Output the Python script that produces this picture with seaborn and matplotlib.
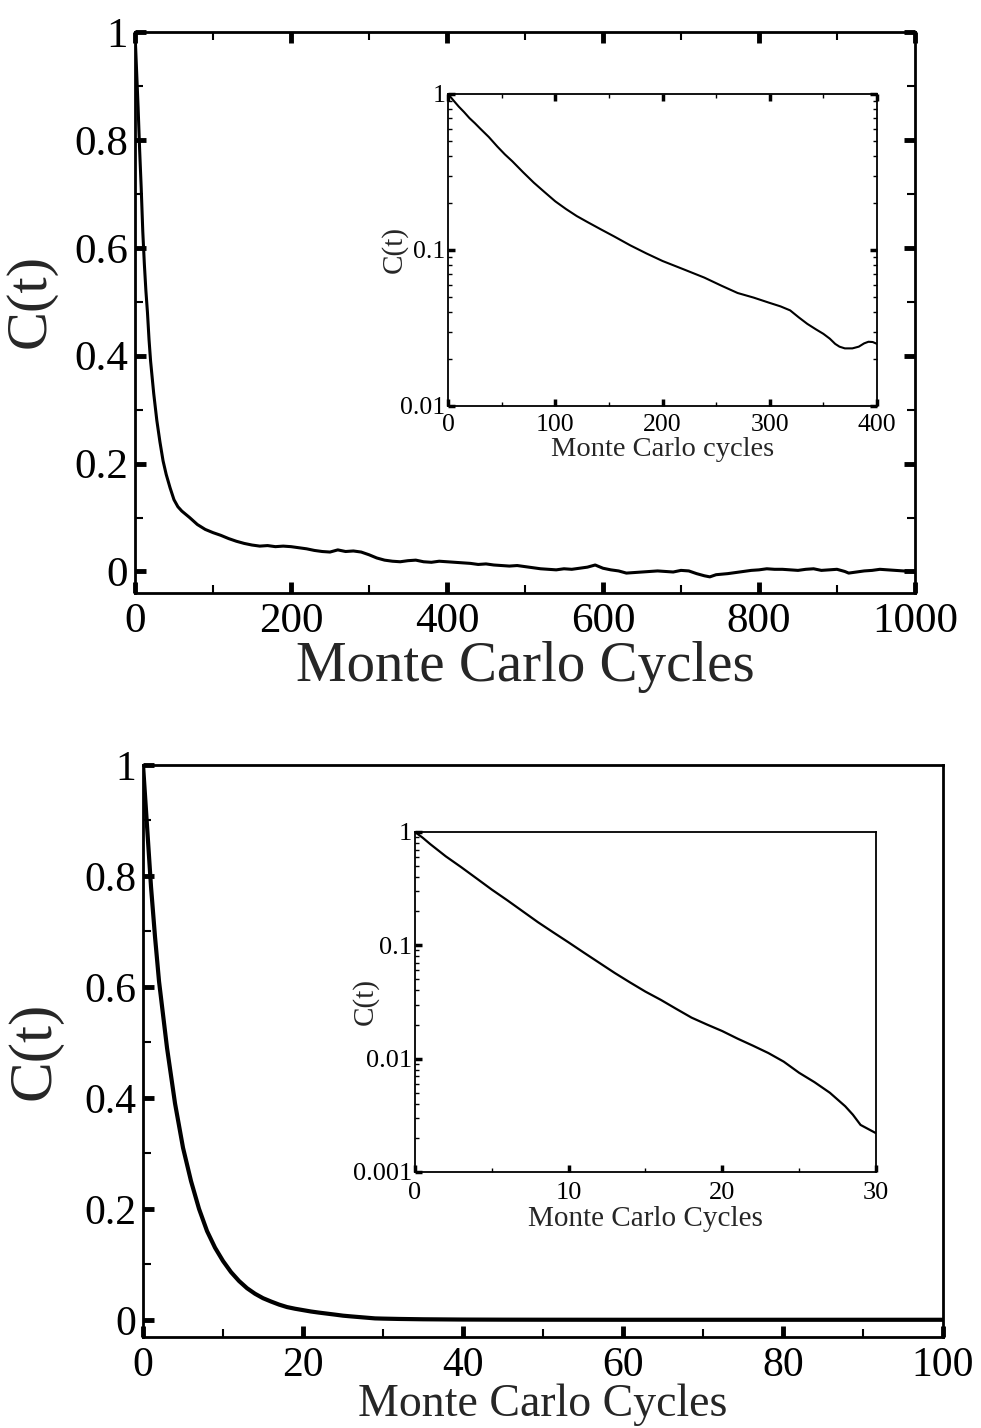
import numpy as np
import pandas as pd
import matplotlib
matplotlib.use("Agg")
import matplotlib.pyplot as plt
from matplotlib.ticker import MultipleLocator, FixedLocator, LogLocator, FuncFormatter, NullFormatter
import seaborn as sns

# ---- data: autocorrelation C(t) vs Monte Carlo cycles ----
# upper panel, linear axes (0-1000 cycles)
cycles_a = [0, 2, 4, 6, 8, 10, 12, 14, 16, 18, 20, 24, 28, 32, 36, 40, 45, 50, 55, 60,
            70, 80, 90, 100, 110, 120, 130, 140, 150, 160, 170, 180, 190, 200, 210, 220,
            230, 240, 250, 260, 270, 280, 290, 300, 310, 320, 330, 340, 350, 360, 370,
            380, 390, 400, 410, 420, 430, 440, 450, 460, 470, 480, 490, 500, 510, 520,
            530, 540, 550, 560, 570, 580, 590, 600, 610, 620, 630, 640, 650, 660, 670,
            680, 690, 700, 710, 720, 730, 737, 745, 760, 770, 780, 790, 800, 810, 820,
            830, 840, 850, 860, 870, 880, 890, 900, 910, 915, 925, 935, 945, 955, 965,
            975, 985, 1000]
corr_a = [1.0, 0.93, 0.86, 0.78, 0.71, 0.63, 0.57, 0.52, 0.48, 0.43, 0.39, 0.33, 0.28,
          0.24, 0.205, 0.18, 0.155, 0.133, 0.12, 0.112, 0.100, 0.087, 0.078,
          0.072, 0.067, 0.061, 0.056, 0.052, 0.049, 0.047, 0.048, 0.046, 0.047, 0.046,
          0.044, 0.042, 0.039, 0.037, 0.036, 0.040, 0.037, 0.038, 0.036, 0.031, 0.025,
          0.021, 0.019, 0.018, 0.020, 0.021, 0.018, 0.017, 0.019, 0.018, 0.017, 0.016,
          0.015, 0.013, 0.014, 0.012, 0.011, 0.010, 0.011, 0.009, 0.007, 0.005, 0.004,
          0.003, 0.005, 0.004, 0.006, 0.008, 0.012, 0.006, 0.003, 0.001, -0.003, -0.002,
          -0.001, 0.000, 0.001, 0.000, -0.001, 0.002, 0.001, -0.004, -0.008, -0.010,
          -0.006, -0.004, -0.002, 0.000, 0.002, 0.003, 0.005, 0.004, 0.004, 0.003,
          0.002, 0.004, 0.005, 0.002, 0.003, 0.004, 0.000, -0.003, -0.001, 0.001,
          0.002, 0.004, 0.003, 0.002, 0.001, -0.001]

# upper inset, logarithmic C(t) (0-400 cycles)
cycles_a_log = [0, 5, 10, 15, 20, 25, 30, 38, 46, 53, 60, 70, 80, 90, 100, 110, 120,
                130, 143, 155, 170, 185, 200, 220, 239, 255, 270, 285, 299, 310, 319,
                327, 335, 343, 350, 356, 361, 365, 370, 377, 383, 388, 392, 396, 400]
corr_a_log = [1.0, 0.91, 0.83, 0.765, 0.70, 0.65, 0.60, 0.53, 0.46, 0.41, 0.37, 0.315,
              0.27, 0.235, 0.205, 0.183, 0.165, 0.151, 0.135, 0.122, 0.107, 0.095,
              0.085, 0.075, 0.0665, 0.059, 0.053, 0.0495, 0.046, 0.0435, 0.041, 0.037,
              0.0336, 0.031, 0.029, 0.027, 0.025, 0.024, 0.0234, 0.0234, 0.024, 0.0252,
              0.0258, 0.0257, 0.025]

# lower panel (0-100 cycles); the inset shows the first 30 cycles on a log axis
cycles_b = [0, 0.5, 1, 1.5, 2, 3, 4, 5, 6, 7, 8, 9, 10, 11, 12, 13, 14, 15, 16, 17, 18,
            19, 20, 21, 22, 23, 24, 25, 26, 27, 28, 28.5, 29, 30, 32, 35, 40, 45, 50,
            60, 70, 80, 90, 100]
corr_b = [1.0, 0.89, 0.78, 0.69, 0.61, 0.49, 0.39, 0.31, 0.25, 0.20, 0.16, 0.13, 0.106,
          0.086, 0.070, 0.057, 0.047, 0.039, 0.033, 0.0275, 0.023, 0.020, 0.0175, 0.0150,
          0.0130, 0.0112, 0.0094, 0.0075, 0.0062, 0.0050, 0.0038, 0.0032, 0.0026, 0.0022,
          0.0016, 0.0010, 0.0005, 0.0003, 0.0002, 0.0001, 0.0001, 0.0001, 0.0001, 0.0001]

df_a = pd.DataFrame({"t": cycles_a, "C": corr_a})
df_a_log = pd.DataFrame({"t": cycles_a_log, "C": corr_a_log})
df_b = pd.DataFrame({"t": cycles_b, "C": corr_b})
df_b_log = df_b[df_b["t"] <= 30]

sns.set_theme(style="ticks")
plt.rcParams["font.family"] = ["Liberation Serif", "DejaVu Serif"]

fig = plt.figure(figsize=(9.81, 14.28), dpi=100)
ax1 = fig.add_axes([0.1376, 0.5847, 0.7951, 0.3929])
ax1_in = fig.add_axes([0.4567, 0.7157, 0.4373, 0.2185])
ax2 = fig.add_axes([0.1458, 0.0637, 0.8155, 0.4006])
ax2_in = fig.add_axes([0.4230, 0.1793, 0.4699, 0.2381])

num_fmt = FuncFormatter(lambda v, p: "%g" % v)


def style_axes(ax, spine_w, maj_len, maj_w, min_len, min_w, label_size, mirror, pad):
    for s in ax.spines.values():
        s.set_linewidth(spine_w)
        s.set_color("black")
    ax.tick_params(which="major", direction="in", length=maj_len, width=maj_w,
                   labelsize=label_size, colors="black", pad=pad,
                   top=mirror, right=mirror)
    ax.tick_params(which="minor", direction="in", length=min_len, width=min_w,
                   top=mirror, right=mirror, colors="black")
    ax.set_facecolor("white")


# ---- upper main panel ----
sns.lineplot(data=df_a, x="t", y="C", ax=ax1, color="black", linewidth=2.2,
             estimator=None, sort=False)
ax1.set_xlim(0, 1000)
ax1.set_ylim(-0.04, 1.0)
ax1.xaxis.set_major_locator(MultipleLocator(200))
ax1.xaxis.set_minor_locator(MultipleLocator(100))
ax1.yaxis.set_major_locator(FixedLocator([0, 0.2, 0.4, 0.6, 0.8, 1.0]))
ax1.yaxis.set_minor_locator(FixedLocator([0.1, 0.3, 0.5, 0.7, 0.9]))
ax1.xaxis.set_major_formatter(num_fmt)
ax1.yaxis.set_major_formatter(num_fmt)
style_axes(ax1, 2.0, 8, 3.5, 6, 1.5, 31, True, 5)
ax1.tick_params(axis="x", which="major", pad=7)
ax1.set_xlabel("Monte Carlo Cycles", fontsize=41, labelpad=0)
ax1.set_ylabel("C(t)", fontsize=42)
ax1.yaxis.set_label_coords(-0.100, 0.52)

# ---- upper inset ----
ax1_in.set_yscale("log")
sns.lineplot(data=df_a_log, x="t", y="C", ax=ax1_in, color="black", linewidth=1.5,
             estimator=None, sort=False)
ax1_in.set_xlim(0, 400)
ax1_in.set_ylim(0.01, 1.0)
ax1_in.xaxis.set_major_locator(MultipleLocator(100))
ax1_in.xaxis.set_minor_locator(MultipleLocator(50))
ax1_in.yaxis.set_major_locator(LogLocator(base=10))
ax1_in.yaxis.set_minor_locator(LogLocator(base=10, subs=np.arange(2, 10)))
ax1_in.yaxis.set_minor_formatter(NullFormatter())
ax1_in.xaxis.set_major_formatter(num_fmt)
ax1_in.yaxis.set_major_formatter(num_fmt)
style_axes(ax1_in, 1.3, 5, 2.5, 3, 1.0, 18.5, True, 2)
ax1_in.tick_params(axis="x", which="major", pad=5.5)
ax1_in.set_xlabel("Monte Carlo cycles", fontsize=20.5, labelpad=1)
ax1_in.set_ylabel("C(t)", fontsize=21)
ax1_in.yaxis.set_label_coords(-0.094, 0.5)

# ---- lower main panel ----
sns.lineplot(data=df_b, x="t", y="C", ax=ax2, color="black", linewidth=3.0,
             estimator=None, sort=False)
ax2.set_xlim(0, 100)
ax2.set_ylim(-0.031, 1.0)
ax2.xaxis.set_major_locator(MultipleLocator(20))
ax2.xaxis.set_minor_locator(MultipleLocator(10))
ax2.yaxis.set_major_locator(FixedLocator([0, 0.2, 0.4, 0.6, 0.8, 1.0]))
ax2.yaxis.set_minor_locator(FixedLocator([0.1, 0.3, 0.5, 0.7, 0.9]))
ax2.xaxis.set_major_formatter(num_fmt)
ax2.yaxis.set_major_formatter(num_fmt)
style_axes(ax2, 2.0, 8, 3.5, 6, 1.5, 30, False, 5)
ax2.tick_params(axis="x", which="major", pad=7)
ax2.set_xlabel("Monte Carlo Cycles", fontsize=33, labelpad=-1.5)
ax2.set_ylabel("C(t)", fontsize=44)
ax2.yaxis.set_label_coords(-0.101, 0.5)

# ---- lower inset ----
ax2_in.set_yscale("log")
sns.lineplot(data=df_b_log, x="t", y="C", ax=ax2_in, color="black", linewidth=1.6,
             estimator=None, sort=False)
ax2_in.set_xlim(0, 30)
ax2_in.set_ylim(0.001, 1.0)
ax2_in.xaxis.set_major_locator(MultipleLocator(10))
ax2_in.xaxis.set_minor_locator(MultipleLocator(5))
ax2_in.yaxis.set_major_locator(LogLocator(base=10))
ax2_in.yaxis.set_minor_locator(LogLocator(base=10, subs=np.arange(2, 10)))
ax2_in.yaxis.set_minor_formatter(NullFormatter())
ax2_in.xaxis.set_major_formatter(num_fmt)
ax2_in.yaxis.set_major_formatter(num_fmt)
style_axes(ax2_in, 1.3, 5, 2.5, 3, 1.0, 19, False, 2)
ax2_in.tick_params(axis="x", which="major", pad=7)
ax2_in.set_xlabel("Monte Carlo Cycles", fontsize=21, labelpad=2)
ax2_in.set_ylabel("C(t)", fontsize=21)
ax2_in.yaxis.set_label_coords(-0.078, 0.5)

fig.savefig("out.png", dpi=100, facecolor="white")
